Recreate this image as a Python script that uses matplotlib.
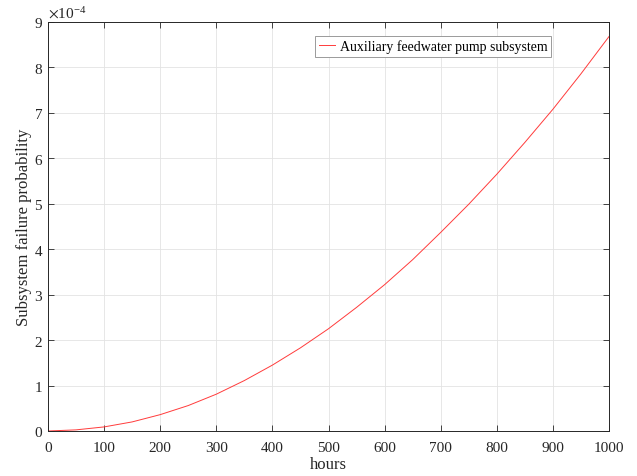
import matplotlib
matplotlib.use("Agg")
import matplotlib.pyplot as plt
from matplotlib.ticker import ScalarFormatter

plt.rcParams['font.family'] = ['Liberation Serif', 'DejaVu Serif']
plt.rcParams['mathtext.fontset'] = 'stix'

# values (probability, hours)
hours = [0, 50, 100, 150, 200, 250, 300, 350, 400, 450, 500,
         550, 600, 650, 700, 750, 800, 850, 900, 950, 1000]
prob_e4 = [0.0, 0.025, 0.09, 0.2, 0.36, 0.56, 0.81, 1.11, 1.45, 1.83, 2.25,
           2.72, 3.22, 3.77, 4.37, 4.99, 5.65, 6.35, 7.08, 7.86, 8.68]
prob = [p * 1e-4 for p in prob_e4]

xticks = list(range(0, 1001, 100))
yticks = [k * 1e-4 for k in range(0, 10)]

fig = plt.figure(figsize=(6.37, 4.77), dpi=100)
ax = fig.add_axes([48/637, 45/477, 561/637, 409/477])

ax.plot(hours, prob, color='#ff3b3b', lw=0.7, label='Auxiliary feedwater pump subsystem')

ax.set_xlim(0, 1000)
ax.set_ylim(0, 9e-4)
ax.set_xticks(xticks)
ax.set_yticks(yticks)

fmt = ScalarFormatter(useMathText=True)
fmt.set_powerlimits((-3, 3))
ax.yaxis.set_major_formatter(fmt)
ax.yaxis.get_offset_text().set_fontsize(11)
ax.yaxis.get_offset_text().set_color('#262626')

ax.grid(True, color='#e3e3e3', lw=0.6)
ax.tick_params(direction='in', top=True, right=True, length=4, width=0.6,
               labelsize=11, colors='#262626')
ax.tick_params(axis='x', pad=7)
for s in ax.spines.values():
    s.set_color('#262626')
    s.set_linewidth(0.7)

ax.set_xlabel('hours', fontsize=12, color='#262626', labelpad=2)
ax.set_ylabel('Subsystem failure probability', fontsize=12, color='#262626', labelpad=1)

leg = ax.legend(loc='upper right', bbox_to_anchor=(0.896, 0.966), borderaxespad=0,
                fancybox=False, edgecolor='#9a9a9a', fontsize=10, handlelength=1.2,
                handletextpad=0.3, borderpad=0.25, framealpha=1)
leg.get_frame().set_linewidth(0.7)

fig.savefig('out.png', dpi=100)
